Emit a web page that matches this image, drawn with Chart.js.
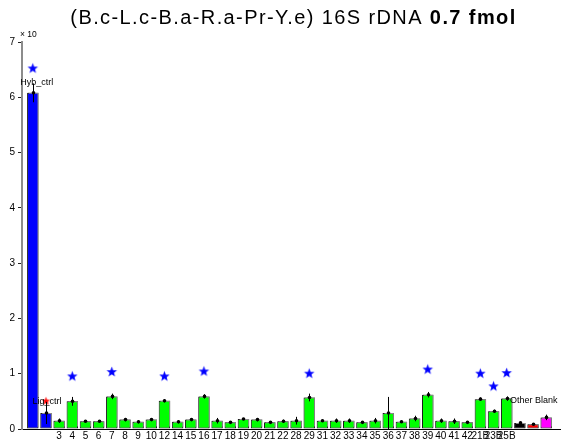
<!DOCTYPE html>
<html>
<head>
<meta charset="utf-8">
<script src="https://cdn.jsdelivr.net/npm/chart.js@4.4.1/dist/chart.umd.min.js"></script>
<style>
  html, body { margin: 0; padding: 0; background: #fff; }
  canvas { display: block; }
</style>
</head>
<body>
<canvas id="chart" width="566" height="443"></canvas>
<script>
// Probe categories, in plotting order
const categories = ['Hyb_ctrl', 'Lig_ctrl', '3', '4', '5', '6', '7', '8', '9', '10', '12', '14', '15',
  '16', '17', '18', '19', '20', '21', '22', '28', '29', '31', '32', '33', '34', '35', '36', '37',
  '38', '39', '40', '41', '42', '21B', '23B', '25B', 'Other', 'Blank', 'Blank2'];

// Labels printed under the x axis (controls and blanks are annotated instead)
const tickLabels = ['', '', '3', '4', '5', '6', '7', '8', '9', '10', '12', '14', '15',
  '16', '17', '18', '19', '20', '21', '22', '28', '29', '31', '32', '33', '34', '35', '36', '37',
  '38', '39', '40', '41', '42', '21B', '23B', '25B', '', '', ''];

// Mean signal (x 10^n) and its spread
const signal = [6.08, 0.29, 0.15, 0.50, 0.14, 0.14, 0.59, 0.17, 0.13, 0.17, 0.51, 0.13, 0.17,
  0.59, 0.15, 0.12, 0.18, 0.17, 0.12, 0.14, 0.15, 0.57, 0.15, 0.15, 0.15, 0.12, 0.15, 0.29, 0.13,
  0.19, 0.62, 0.15, 0.14, 0.12, 0.54, 0.32, 0.55, 0.11, 0.085, 0.21];
const spread = [0.17, 0.20, 0.04, 0.08, 0.02, 0.02, 0.05, 0.03, 0.03, 0.02, 0.03, 0.03, 0.02,
  0.04, 0.05, 0.02, 0.02, 0.03, 0.02, 0.03, 0.07, 0.07, 0.02, 0.04, 0.04, 0.02, 0.05, 0.29, 0.02,
  0.05, 0.05, 0.04, 0.05, 0.02, 0.03, 0.03, 0.04, 0.02, 0.02, 0.05];

// Significance markers
const blueStarCats = ['Hyb_ctrl', '4', '7', '12', '16', '29', '39', '21B', '23B', '25B'];
const blueStarVals = [6.53, 0.96, 1.04, 0.96, 1.05, 1.01, 1.085, 1.01, 0.78, 1.02];
const redStarCats = ['Lig_ctrl'];
const redStarVals = [0.51];

const yTicks = [0, 1, 2, 3, 4, 5, 6, 7];

const FONT = "'Liberation Sans', Arial, Helvetica, sans-serif";

function barColor(i) {
  const c = categories[i];
  if (c === 'Hyb_ctrl' || c === 'Lig_ctrl') return '#0000ff';
  if (c === 'Other') return '#000000';
  if (c === 'Blank') return '#ff0000';
  if (c === 'Blank2') return '#ff00ff';
  return '#00ff00';
}

function starImage(color, r) {
  const s = Math.ceil(r * 2 + 2);
  const cv = document.createElement('canvas');
  cv.width = s; cv.height = s;
  const g = cv.getContext('2d');
  g.fillStyle = color;
  g.beginPath();
  for (let k = 0; k < 10; k++) {
    const rad = k % 2 ? r * 0.42 : r;
    const a = -Math.PI / 2 + k * Math.PI / 5;
    g.lineTo(s / 2 + rad * Math.cos(a), s / 2 + rad * Math.sin(a) + r * 0.1);
  }
  g.closePath();
  g.fill();
  return cv;
}

// Gray drop shadow behind the bars
const barShadow = {
  id: 'barShadow',
  beforeDatasetDraw(chart, args) {
    if (args.index !== 0) return;
    const c = chart.ctx;
    c.save();
    c.shadowColor = '#8a8a8a';
    c.shadowOffsetX = 1;
    c.shadowOffsetY = -1;
    c.shadowBlur = 0;
  },
  afterDatasetDraw(chart, args) {
    if (args.index !== 0) return;
    chart.ctx.restore();
  }
};

// Error bars with a dot at the mean
const errorBars = {
  id: 'errorBars',
  afterDatasetsDraw(chart) {
    const c = chart.ctx, xs = chart.scales.x, ys = chart.scales.y;
    c.save();
    c.strokeStyle = '#000';
    c.fillStyle = '#000';
    c.lineWidth = 1;
    signal.forEach((v, i) => {
      const x = Math.round(xs.getPixelForValue(i)) + 0.5;
      c.beginPath();
      c.moveTo(x, ys.getPixelForValue(v + spread[i]));
      c.lineTo(x, ys.getPixelForValue(Math.max(0, v - spread[i])));
      c.stroke();
      c.beginPath();
      c.arc(x, ys.getPixelForValue(v), 1.8, 0, Math.PI * 2);
      c.fill();
    });
    c.restore();
  }
};

// Title, exponent note and text labels
const textLayer = {
  id: 'textLayer',
  afterDraw(chart) {
    const c = chart.ctx, xs = chart.scales.x, ys = chart.scales.y;
    c.save();
    c.fillStyle = '#000';
    c.textBaseline = 'middle';

    const t1 = '(B.c-L.c-B.a-R.a-Pr-Y.e) 16S rDNA ';
    const t2 = '0.7 fmol';
    if ('letterSpacing' in c) c.letterSpacing = '1.4px';
    c.font = '20px ' + FONT;
    const w1 = c.measureText(t1).width;
    c.font = 'bold 20px ' + FONT;
    const w2 = c.measureText(t2).width;
    const x0 = 293.5 - (w1 + w2) / 2;
    c.textAlign = 'left';
    c.font = '20px ' + FONT;
    c.fillText(t1, x0, 18);
    c.font = 'bold 20px ' + FONT;
    c.fillText(t2, x0 + w1, 18);
    if ('letterSpacing' in c) c.letterSpacing = '0px';

    c.font = '8.5px ' + FONT;
    c.fillText('\u00d7 10', 20, 35);

    c.font = '9px ' + FONT;
    c.textAlign = 'center';
    const hi = categories.indexOf('Hyb_ctrl');
    c.fillText('Hyb_ctrl', xs.getPixelForValue(hi) + 4, ys.getPixelForValue(signal[hi] + spread[hi]) - 1);
    const li = categories.indexOf('Lig_ctrl');
    c.fillText('Lig_ctrl', xs.getPixelForValue(li) + 1, ys.getPixelForValue(signal[li] + spread[li]));
    const oi = categories.indexOf('Other');
    c.fillText('Other Blank', xs.getPixelForValue(oi) + 14, ys.getPixelForValue(0.52));
    c.restore();
  }
};

const barData = signal.map((v, i) => ({ x: i, y: v }));

new Chart(document.getElementById('chart'), {
  type: 'bar',
  data: {
    datasets: [
      {
        data: barData,
        backgroundColor: signal.map((_, i) => barColor(i)),
        borderColor: '#1a1a1a',
        borderWidth: 1,
        borderSkipped: false,
        categoryPercentage: 1,
        barPercentage: 0.87,
        order: 2
      },
      {
        type: 'scatter',
        data: blueStarCats.map((c, k) => ({ x: categories.indexOf(c), y: blueStarVals[k] })),
        pointStyle: starImage('#0000ff', 5.5),
        pointRadius: 5,
        order: 1
      },
      {
        type: 'scatter',
        data: redStarCats.map((c, k) => ({ x: categories.indexOf(c), y: redStarVals[k] })),
        pointStyle: starImage('#ff0000', 4.5),
        pointRadius: 4,
        order: 1
      }
    ]
  },
  options: {
    responsive: false,
    animation: false,
    events: [],
    layout: { padding: { top: 42, right: 0, left: 0, bottom: 0 } },
    plugins: {
      legend: { display: false },
      tooltip: { enabled: false },
      title: { display: false }
    },
    scales: {
      x: {
        type: 'linear',
        min: -0.82,
        max: 40.05,
        offset: false,
        afterBuildTicks(scale) {
          scale.ticks = tickLabels.map((_, i) => ({ value: i }));
        },
        afterFit(scale) { scale.height = 14; },
        grid: { display: false, drawTicks: false },
        border: { display: true, color: '#000', width: 1 },
        ticks: {
          autoSkip: false,
          maxRotation: 0,
          minRotation: 0,
          padding: 1,
          color: '#000',
          font: { family: FONT, size: 10 },
          callback: (v) => tickLabels[v] ?? ''
        }
      },
      y: {
        min: 0,
        max: 7,
        afterBuildTicks(scale) {
          scale.ticks = yTicks.map(v => ({ value: v }));
        },
        afterFit(scale) { scale.width = 22; },
        grid: { drawOnChartArea: false, drawTicks: true, tickLength: 4, color: '#222' },
        border: { display: true, color: '#8c8c8c', width: 2 },
        ticks: {
          padding: 3,
          color: '#000',
          font: { family: FONT, size: 10 }
        }
      }
    }
  },
  plugins: [barShadow, errorBars, textLayer]
});
</script>
</body>
</html>
